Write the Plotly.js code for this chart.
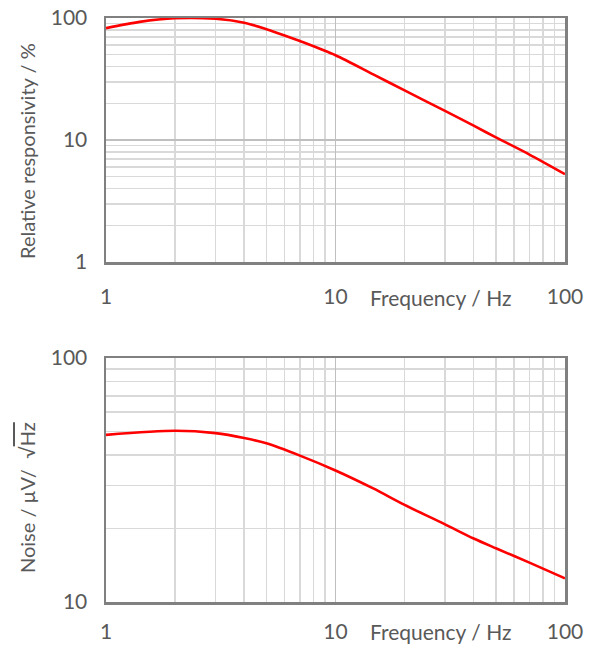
<!DOCTYPE html>
<html>
<head>
<meta charset="utf-8">
<script src="https://cdn.plot.ly/plotly-3.0.1.min.js"></script>
<style>html,body{margin:0;padding:0;background:#fff;}#chart{width:594px;height:646px;}</style>
</head>
<body>
<div id="chart"></div>
<script>
// Top chart: relative responsivity (%) vs frequency (Hz)
const respFreq = [1, 1.4, 2, 3, 4, 5, 6, 7, 10, 14.6, 20, 30, 40, 50, 70, 100];
const responsivity = [82.6, 93, 99.5, 98.5, 91.5, 81, 72, 64.7, 49.5, 34.5, 25.5, 17.3, 13.1, 10.5, 7.6, 5.25];

// Bottom chart: noise (µV/√Hz) vs frequency (Hz)
const noiseFreq = [1, 2, 3, 4, 5, 7, 10, 14.6, 20, 30, 40, 50, 70, 100];
const noise = [48.4, 50.3, 49.2, 47, 44.7, 39.8, 34.6, 29.2, 25, 20.8, 18.2, 16.6, 14.5, 12.5];

const xTickVals = [1, 10, 100];
const xTickText = ['1', '10', '100'];
const topYTickVals = [1, 10, 100];
const topYTickText = ['1', '10', '100'];
const botYTickVals = [10, 100];
const botYTickText = ['10', '100'];

const FONT = 'Lato, "Open Sans", sans-serif';
const TXT = '#595959';
const GRID = '#d9d9d9';
const FS = 21;

function xAxis(anchor, standoff) {
  return {
    type: 'log', range: [0, 2], anchor: anchor,
    domain: [0, 1],
    tickvals: xTickVals, ticktext: xTickText,
    ticks: '', ticklabelstandoff: standoff,
    tickfont: {family: FONT, size: FS, color: TXT},
    showgrid: true, gridcolor: '#bfbfbf', gridwidth: 1.3,
    minor: {dtick: 'D1', showgrid: true, gridcolor: GRID, gridwidth: 1.5, ticks: ''},
    showline: true, mirror: true, linecolor: '#808080', linewidth: 2.5,
    zeroline: false, fixedrange: true
  };
}
function yAxis(anchor, range, domain, tv, tt) {
  return {
    type: 'log', range: range, anchor: anchor, domain: domain,
    tickvals: tv, ticktext: tt,
    ticks: '', ticklabelstandoff: 12,
    tickfont: {family: FONT, size: FS, color: TXT},
    showgrid: true, gridcolor: '#bfbfbf', gridwidth: 1.3,
    minor: {dtick: 'D1', showgrid: true, gridcolor: GRID, gridwidth: 1.5, ticks: ''},
    showline: true, mirror: true, linecolor: '#808080', linewidth: 2.5,
    zeroline: false, fixedrange: true
  };
}

const H = 646, W = 594;
const traces = [
  {x: respFreq, y: responsivity, xaxis: 'x', yaxis: 'y', mode: 'lines',
   line: {color: '#ff0000', width: 2.6, shape: 'spline', smoothing: 0.8}, hoverinfo: 'skip'},
  {x: noiseFreq, y: noise, xaxis: 'x2', yaxis: 'y2', mode: 'lines',
   line: {color: '#ff0000', width: 2.6, shape: 'spline', smoothing: 0.8}, hoverinfo: 'skip'}
];

function ann(text, px, py, angle) {
  return {text: text, xref: 'paper', yref: 'paper', x: (px - 106) / 459, y: 1 - py / H,
    xanchor: 'center', yanchor: 'middle', showarrow: false, textangle: angle || 0,
    font: {family: FONT, size: angle ? 20 : FS, color: TXT}};
}

const layout = {
  width: W, height: H,
  margin: {l: 106, r: 29, t: 0, b: 0},
  paper_bgcolor: '#ffffff', plot_bgcolor: '#ffffff',
  showlegend: false,
  xaxis: xAxis('y', 14),
  yaxis: yAxis('x', [0, 2], [1 - 262 / H, 1 - 18 / H], topYTickVals, topYTickText),
  xaxis2: xAxis('y2', 9),
  yaxis2: yAxis('x2', [1, 2], [1 - 602 / H, 1 - 358 / H], botYTickVals, botYTickText),
  annotations: [
    ann('Frequency / Hz', 440, 297),
    ann('Frequency / Hz', 440, 631),
    ann('Relative responsivity / %', 27, 151, -90),
    ann('Noise / µV/  √<span style="text-decoration:overline">Hz</span>', 27, 498, -90)
  ]
};

Plotly.newPlot('chart', traces, layout, {displayModeBar: false, staticPlot: true});
</script>
</body>
</html>
